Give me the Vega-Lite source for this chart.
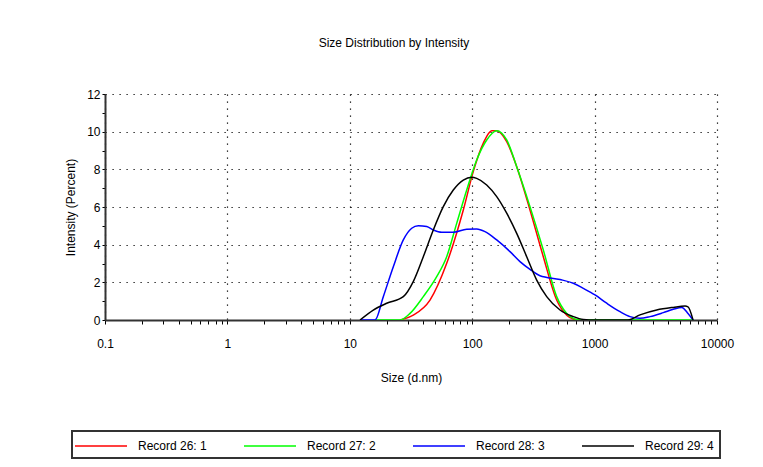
{
  "$schema": "https://vega.github.io/schema/vega-lite/v6.json",
  "width": 612,
  "height": 226,
  "autosize": {"type": "none"},
  "padding": {"left": 105, "top": 94, "right": 46, "bottom": 147},
  "background": "white",
  "title": {"text": "Size Distribution by Intensity", "frame": "group", "anchor": "middle", "dx": -17, "offset": 38, "font": "Liberation Sans", "fontSize": 12, "fontWeight": "normal", "color": "#000"},
  "data": {"values": [
    {"s": "Record 26: 1", "d": 25.7, "i": 0},
    {"s": "Record 26: 1", "d": 33.0, "i": 0.26},
    {"s": "Record 26: 1", "d": 45.2, "i": 1.06},
    {"s": "Record 26: 1", "d": 61.9, "i": 3.01},
    {"s": "Record 26: 1", "d": 84.6, "i": 5.84},
    {"s": "Record 26: 1", "d": 102, "i": 7.88},
    {"s": "Record 26: 1", "d": 123, "i": 9.38},
    {"s": "Record 26: 1", "d": 144.3, "i": 10.05},
    {"s": "Record 26: 1", "d": 158.6, "i": 10.05},
    {"s": "Record 26: 1", "d": 191.4, "i": 9.47},
    {"s": "Record 26: 1", "d": 231, "i": 8.14},
    {"s": "Record 26: 1", "d": 296.6, "i": 5.84},
    {"s": "Record 26: 1", "d": 381, "i": 3.36},
    {"s": "Record 26: 1", "d": 490, "i": 1.06},
    {"s": "Record 26: 1", "d": 591.8, "i": 0.26},
    {"s": "Record 26: 1", "d": 670, "i": 0.05},
    {"s": "Record 26: 1", "d": 760, "i": 0},

    {"s": "Record 27: 2", "d": 16.07, "i": 0},
    {"s": "Record 27: 2", "d": 25.7, "i": 0},
    {"s": "Record 27: 2", "d": 31.03, "i": 0.35},
    {"s": "Record 27: 2", "d": 39.86, "i": 1.24},
    {"s": "Record 27: 2", "d": 51.29, "i": 2.3},
    {"s": "Record 27: 2", "d": 61.9, "i": 3.36},
    {"s": "Record 27: 2", "d": 74.7, "i": 5.13},
    {"s": "Record 27: 2", "d": 90.2, "i": 6.9},
    {"s": "Record 27: 2", "d": 108.8, "i": 8.5},
    {"s": "Record 27: 2", "d": 131.4, "i": 9.56},
    {"s": "Record 27: 2", "d": 158.6, "i": 10.05},
    {"s": "Record 27: 2", "d": 191.4, "i": 9.56},
    {"s": "Record 27: 2", "d": 231, "i": 8.14},
    {"s": "Record 27: 2", "d": 296.6, "i": 6.02},
    {"s": "Record 27: 2", "d": 381, "i": 3.72},
    {"s": "Record 27: 2", "d": 490, "i": 1.24},
    {"s": "Record 27: 2", "d": 591.8, "i": 0.35},
    {"s": "Record 27: 2", "d": 670, "i": 0.09},
    {"s": "Record 27: 2", "d": 760, "i": 0},
    {"s": "Record 27: 2", "d": 6370, "i": 0},

    {"s": "Record 28: 3", "d": 12.12, "i": 0},
    {"s": "Record 28: 3", "d": 16.07, "i": 0},
    {"s": "Record 28: 3", "d": 18.78, "i": 1.24},
    {"s": "Record 28: 3", "d": 22.67, "i": 2.83},
    {"s": "Record 28: 3", "d": 27.36, "i": 4.25},
    {"s": "Record 28: 3", "d": 32.04, "i": 4.87},
    {"s": "Record 28: 3", "d": 36.28, "i": 5.01},
    {"s": "Record 28: 3", "d": 42.49, "i": 4.96},
    {"s": "Record 28: 3", "d": 48.11, "i": 4.78},
    {"s": "Record 28: 3", "d": 56.33, "i": 4.66},
    {"s": "Record 28: 3", "d": 70.06, "i": 4.66},
    {"s": "Record 28: 3", "d": 90.2, "i": 4.82},
    {"s": "Record 28: 3", "d": 108.8, "i": 4.83},
    {"s": "Record 28: 3", "d": 127.2, "i": 4.69},
    {"s": "Record 28: 3", "d": 158.6, "i": 4.25},
    {"s": "Record 28: 3", "d": 203.6, "i": 3.63},
    {"s": "Record 28: 3", "d": 245.7, "i": 3.1},
    {"s": "Record 28: 3", "d": 296.6, "i": 2.69},
    {"s": "Record 28: 3", "d": 357.9, "i": 2.35},
    {"s": "Record 28: 3", "d": 521.6, "i": 2.15},
    {"s": "Record 28: 3", "d": 670, "i": 1.95},
    {"s": "Record 28: 3", "d": 808.7, "i": 1.68},
    {"s": "Record 28: 3", "d": 1008, "i": 1.33},
    {"s": "Record 28: 3", "d": 1256, "i": 0.89},
    {"s": "Record 28: 3", "d": 1613, "i": 0.44},
    {"s": "Record 28: 3", "d": 1947, "i": 0.18},
    {"s": "Record 28: 3", "d": 2349, "i": 0.09},
    {"s": "Record 28: 3", "d": 2836, "i": 0.18},
    {"s": "Record 28: 3", "d": 3641, "i": 0.39},
    {"s": "Record 28: 3", "d": 4395, "i": 0.57},
    {"s": "Record 28: 3", "d": 5150, "i": 0.67},
    {"s": "Record 28: 3", "d": 5797, "i": 0.35},
    {"s": "Record 28: 3", "d": 6370, "i": 0},

    {"s": "Record 29: 4", "d": 12.12, "i": 0},
    {"s": "Record 29: 4", "d": 15.56, "i": 0.53},
    {"s": "Record 29: 4", "d": 20.02, "i": 0.89},
    {"s": "Record 29: 4", "d": 27.36, "i": 1.24},
    {"s": "Record 29: 4", "d": 33.0, "i": 2.04},
    {"s": "Record 29: 4", "d": 39.86, "i": 3.36},
    {"s": "Record 29: 4", "d": 48.11, "i": 4.78},
    {"s": "Record 29: 4", "d": 58.06, "i": 6.02},
    {"s": "Record 29: 4", "d": 70.06, "i": 6.9},
    {"s": "Record 29: 4", "d": 84.6, "i": 7.43},
    {"s": "Record 29: 4", "d": 99.06, "i": 7.58},
    {"s": "Record 29: 4", "d": 108.8, "i": 7.52},
    {"s": "Record 29: 4", "d": 131.4, "i": 7.17},
    {"s": "Record 29: 4", "d": 158.6, "i": 6.55},
    {"s": "Record 29: 4", "d": 191.4, "i": 5.67},
    {"s": "Record 29: 4", "d": 231, "i": 4.6},
    {"s": "Record 29: 4", "d": 278.8, "i": 3.36},
    {"s": "Record 29: 4", "d": 336.5, "i": 2.12},
    {"s": "Record 29: 4", "d": 406.2, "i": 1.24},
    {"s": "Record 29: 4", "d": 521.6, "i": 0.53},
    {"s": "Record 29: 4", "d": 670, "i": 0.18},
    {"s": "Record 29: 4", "d": 808.7, "i": 0.03},
    {"s": "Record 29: 4", "d": 1008, "i": 0},
    {"s": "Record 29: 4", "d": 1875, "i": 0},
    {"s": "Record 29: 4", "d": 2349, "i": 0.27},
    {"s": "Record 29: 4", "d": 3217, "i": 0.53},
    {"s": "Record 29: 4", "d": 4395, "i": 0.67},
    {"s": "Record 29: 4", "d": 5480, "i": 0.74},
    {"s": "Record 29: 4", "d": 5797, "i": 0.7},
    {"s": "Record 29: 4", "d": 6370, "i": 0}
  ]},
  "mark": {"type": "line", "interpolate": "monotone", "strokeWidth": 1.5, "clip": true},
  "encoding": {
    "x": {
      "field": "d", "type": "quantitative",
      "scale": {"type": "log", "domain": [0.1, 10000], "nice": false},
      "axis": {
        "title": "Size (d.nm)",
        "values": [0.1,0.2,0.3,0.4,0.5,0.6,0.7,0.8,0.9,1,2,3,4,5,6,7,8,9,10,20,30,40,50,60,70,80,90,100,200,300,400,500,600,700,800,900,1000,2000,3000,4000,5000,6000,7000,8000,9000,10000],
        "labelExpr": "abs(log(datum.value)/LN10 - round(log(datum.value)/LN10)) < 0.000001 ? format(datum.value, '~g') : ''",
        "grid": true,
        "gridOpacity": {"condition": {"test": "abs(log(datum.value)/LN10 - round(log(datum.value)/LN10)) < 0.000001", "value": 1}, "value": 0},
        "tickSize": 4,
        "labelPadding": 14,
        "titlePadding": 23,
        "encode": {"ticks": {"update": {"y": {"value": -3}}}}
      }
    },
    "y": {
      "field": "i", "type": "quantitative",
      "scale": {"domain": [0, 12], "nice": false},
      "axis": {
        "title": "Intensity (Percent)",
        "values": [0,1,2,3,4,5,6,7,8,9,10,11,12],
        "labelExpr": "datum.value % 2 == 0 ? datum.label : ''",
        "grid": true,
        "gridOpacity": {"condition": {"test": "datum.value % 2 == 0 && datum.value > 0", "value": 1}, "value": 0},
        "tickSize": 3,
        "labelPadding": 2,
        "titlePadding": 9,
        "encode": {"ticks": {"update": {"x": {"value": 3}}}}
      }
    },
    "color": {
      "field": "s", "type": "nominal",
      "scale": {"domain": ["Record 26: 1", "Record 27: 2", "Record 28: 3", "Record 29: 4"], "range": ["#ff0000", "#00ff00", "#0000ff", "#000000"]},
      "legend": {
        "title": null,
        "orient": "none",
        "legendX": -33,
        "legendY": 337,
        "direction": "horizontal",
        "columns": 4,
        "symbolType": "M-1.5,0H5",
        "symbolSize": 256,
        "symbolStrokeWidth": 1.5,
        "labelOffset": 42,
        "columnPadding": 34,
        "padding": 6,
        "strokeColor": "#333",
        "labelFont": "Liberation Sans",
        "labelFontSize": 12,
        "labelColor": "#000",
        "encode": {"legend": {"update": {"strokeWidth": {"value": 2}}}}
      }
    }
  },
  "config": {
    "view": {"stroke": null},
    "axis": {
      "labelFont": "Liberation Sans",
      "labelFontSize": 12,
      "labelColor": "#000",
      "titleFont": "Liberation Sans",
      "titleFontSize": 12,
      "titleFontWeight": "normal",
      "titleColor": "#000",
      "domainColor": "#333",
      "domainWidth": 2,
      "tickColor": "#000",
      "tickWidth": 1,
      "gridColor": "#000",
      "gridDash": [1.2, 5.8],
      "gridWidth": 1.2,
      "labelFlush": false,
      "labelOverlap": false
    }
  }
}
